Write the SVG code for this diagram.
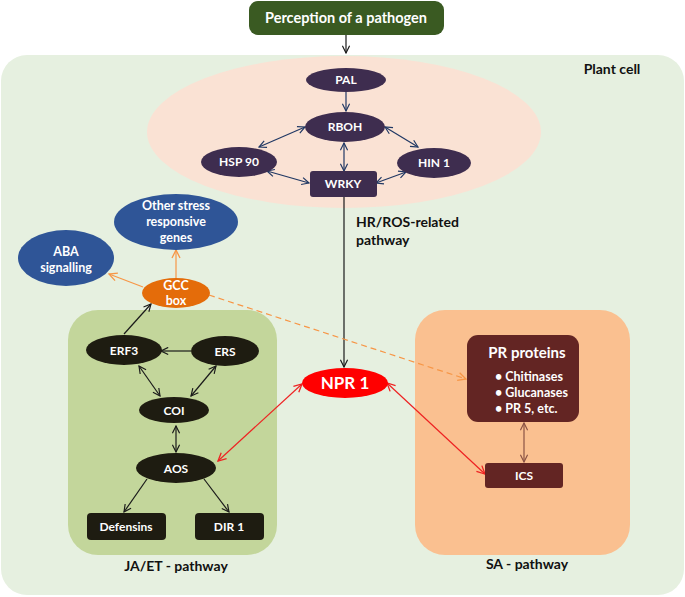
<svg xmlns="http://www.w3.org/2000/svg" width="685" height="597" viewBox="0 0 685 597">
<style>
text{font-family:Lato,"Liberation Sans",sans-serif;font-weight:bold;text-anchor:middle}
.w{fill:#ffffff;font-size:12px}
.k{fill:#111111;font-size:14px}
.c{fill:none;stroke-width:1.2}
.nv{stroke:#203864}
.bk{stroke:#1a1a1a}
.or{stroke:#f79646}
.rd{stroke:#ee2222}
.br{stroke:#8a5245}
.pur{fill:#3e2d4f}
.blk{fill:#1e1c11}
.blu{fill:#2f5597}
.drd{fill:#632523}
</style>
<defs>
<marker id="aNv" viewBox="0 0 10 10" refX="9" refY="5" markerWidth="9" markerHeight="9" markerUnits="userSpaceOnUse" orient="auto-start-reverse"><path d="M1,1 L9,5 L1,9" fill="none" stroke="#203864" stroke-width="1.3"/></marker>
<marker id="aBk" viewBox="0 0 10 10" refX="9" refY="5" markerWidth="9" markerHeight="9" markerUnits="userSpaceOnUse" orient="auto-start-reverse"><path d="M1,1 L9,5 L1,9" fill="none" stroke="#1a1a1a" stroke-width="1.3"/></marker>
<marker id="aOr" viewBox="0 0 10 10" refX="9" refY="5" markerWidth="10" markerHeight="10" markerUnits="userSpaceOnUse" orient="auto-start-reverse"><path d="M1,1 L9,5 L1,9" fill="none" stroke="#f79646" stroke-width="1.3"/></marker>
<marker id="aRd" viewBox="0 0 10 10" refX="9" refY="5" markerWidth="10" markerHeight="10" markerUnits="userSpaceOnUse" orient="auto-start-reverse"><path d="M1,1 L9,5 L1,9" fill="none" stroke="#ee2222" stroke-width="1.3"/></marker>
<marker id="aBr" viewBox="0 0 10 10" refX="9" refY="5" markerWidth="9" markerHeight="9" markerUnits="userSpaceOnUse" orient="auto-start-reverse"><path d="M1,1 L9,5 L1,9" fill="none" stroke="#8a5245" stroke-width="1.3"/></marker>
</defs>

<g id="plant-cell">
<rect x="1" y="55" width="683" height="540" rx="26" fill="#e6f0e0"/>
<text x="612" y="74" class="k">Plant cell</text>
</g>
<g id="hr-ros-region">
<ellipse cx="344" cy="132" rx="197" ry="76" fill="#fae2d4"/>
</g>
<g id="ja-et-box">
<rect x="68" y="310" width="209" height="245" rx="30" fill="#c3d69b"/>
<text x="176" y="571" class="k">JA/ET - pathway</text>
</g>
<g id="sa-box">
<rect x="415" y="310" width="215" height="245" rx="30" fill="#fac090"/>
<text x="527" y="569" class="k">SA - pathway</text>
</g>
<g id="hr-label">
<text x="356" y="227" class="k" style="text-anchor:start">HR/ROS-related</text>
<text x="356" y="245" class="k" style="text-anchor:start">pathway</text>
</g>

<g id="connectors">
<line x1="346" y1="35" x2="346" y2="53" class="c bk" marker-end="url(#aBk)"/>
<line x1="346" y1="92" x2="346" y2="111" class="c nv" marker-end="url(#aNv)"/>
<line x1="305" y1="127" x2="259" y2="147" class="c nv" marker-start="url(#aNv)" marker-end="url(#aNv)"/>
<line x1="385" y1="127" x2="418" y2="147" class="c nv" marker-start="url(#aNv)" marker-end="url(#aNv)"/>
<line x1="344" y1="143" x2="344" y2="171" class="c nv" marker-start="url(#aNv)" marker-end="url(#aNv)"/>
<line x1="267" y1="171" x2="309" y2="183" class="c nv" marker-start="url(#aNv)" marker-end="url(#aNv)"/>
<line x1="406" y1="172" x2="376" y2="183" class="c nv" marker-start="url(#aNv)" marker-end="url(#aNv)"/>
<line x1="344" y1="197" x2="344" y2="367" class="c bk" marker-end="url(#aBk)"/>
<line x1="176" y1="278" x2="176" y2="250" class="c or" marker-end="url(#aOr)"/>
<line x1="143" y1="287" x2="109" y2="274" class="c or" marker-end="url(#aOr)"/>
<line x1="209" y1="295" x2="466" y2="379" class="c or" stroke-dasharray="6,4" marker-end="url(#aOr)"/>
<line x1="124" y1="334" x2="151" y2="304" class="c bk" marker-end="url(#aBk)"/>
<line x1="191" y1="351" x2="161" y2="351" class="c bk" marker-end="url(#aBk)"/>
<line x1="139" y1="366" x2="160" y2="396" class="c bk" marker-start="url(#aBk)" marker-end="url(#aBk)"/>
<line x1="216" y1="366" x2="191" y2="396" class="c bk" marker-start="url(#aBk)" marker-end="url(#aBk)"/>
<line x1="176" y1="426" x2="176" y2="452" class="c bk" marker-start="url(#aBk)" marker-end="url(#aBk)"/>
<line x1="147" y1="479" x2="124" y2="512" class="c bk" marker-end="url(#aBk)"/>
<line x1="204" y1="479" x2="229" y2="512" class="c bk" marker-end="url(#aBk)"/>
<line x1="218" y1="461" x2="302" y2="384" class="c rd" marker-start="url(#aRd)" marker-end="url(#aRd)"/>
<line x1="387" y1="383" x2="485" y2="474" class="c rd" marker-start="url(#aRd)" marker-end="url(#aRd)"/>
<line x1="524" y1="423" x2="524" y2="462" class="c br" marker-start="url(#aBr)" marker-end="url(#aBr)"/>
</g>

<g id="perception">
<rect x="249" y="1" width="195" height="34" rx="9" fill="#3a5a22"/>
<text x="346" y="23" style="fill:#fff;font-size:14.5px">Perception of a pathogen</text>
</g>
<g id="PAL"><ellipse cx="346" cy="80" rx="40" ry="12" class="pur"/><text x="346" y="84" class="w">PAL</text></g>
<g id="RBOH"><ellipse cx="345" cy="127" rx="40" ry="15" class="pur"/><text x="345" y="131" class="w">RBOH</text></g>
<g id="HSP90"><ellipse cx="239" cy="162" rx="38" ry="15" class="pur"/><text x="239" y="166" class="w">HSP 90</text></g>
<g id="HIN1"><ellipse cx="434" cy="163" rx="37" ry="15" class="pur"/><text x="434" y="167" class="w">HIN 1</text></g>
<g id="WRKY"><rect x="310" y="171" width="67" height="26" rx="3" class="pur"/><text x="343" y="188" class="w">WRKY</text></g>

<g id="other-stress"><ellipse cx="176" cy="222" rx="62" ry="28" class="blu"/>
<text x="176" y="210" class="w" style="font-size:12.5px">Other stress</text><text x="176" y="226" class="w" style="font-size:12.5px">responsive</text><text x="176" y="242" class="w" style="font-size:12.5px">genes</text></g>
<g id="ABA"><ellipse cx="66" cy="258" rx="48" ry="28" class="blu"/>
<text x="66" y="256" class="w" style="font-size:12.5px">ABA</text><text x="66" y="272" class="w" style="font-size:12.5px">signalling</text></g>
<g id="GCC"><ellipse cx="176" cy="293" rx="34" ry="15" fill="#e46c0a"/>
<text x="176" y="290" class="w" style="font-size:12.5px">GCC</text><text x="176" y="305" class="w" style="font-size:12.5px">box</text></g>

<g id="ERF3"><ellipse cx="124" cy="350" rx="38" ry="15" class="blk"/><text x="124" y="355" class="w">ERF3</text></g>
<g id="ERS"><ellipse cx="225" cy="351" rx="34" ry="15" class="blk"/><text x="225" y="356" class="w">ERS</text></g>
<g id="COI"><ellipse cx="174" cy="410" rx="35" ry="13" class="blk"/><text x="174" y="415" class="w">COI</text></g>
<g id="AOS"><ellipse cx="176" cy="468" rx="40" ry="15" class="blk"/><text x="176" y="473" class="w">AOS</text></g>
<g id="Defensins"><rect x="87" y="513" width="79" height="27" rx="4" class="blk"/><text x="126" y="531" class="w">Defensins</text></g>
<g id="DIR1"><rect x="195" y="513" width="69" height="27" rx="4" class="blk"/><text x="229" y="531" class="w">DIR 1</text></g>

<g id="NPR1"><ellipse cx="345" cy="383" rx="43" ry="15" fill="#ff0000"/><text x="345" y="389" style="fill:#fff;font-size:17px">NPR 1</text></g>

<g id="PR-proteins"><rect x="467" y="335" width="112" height="87" rx="11" class="drd"/>
<text x="527" y="358" style="fill:#fff;font-size:15px">PR proteins</text>
<text x="495" y="381" style="fill:#fff;font-size:12.5px;text-anchor:start">• Chitinases</text>
<text x="495" y="397" style="fill:#fff;font-size:12.5px;text-anchor:start">• Glucanases</text>
<text x="495" y="413" style="fill:#fff;font-size:12.5px;text-anchor:start">• PR 5, etc.</text></g>
<g id="ICS"><rect x="485" y="463" width="78" height="25" rx="3" class="drd"/><text x="524" y="480" class="w">ICS</text></g>
</svg>
